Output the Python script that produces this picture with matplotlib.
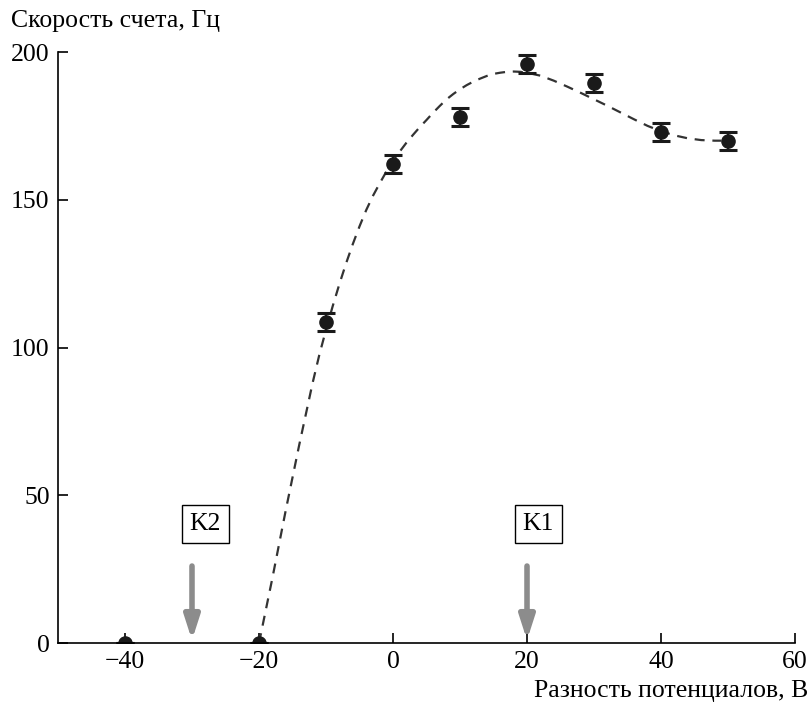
import matplotlib
matplotlib.use("Agg")
import matplotlib.pyplot as plt

plt.rcParams['font.family'] = ['Liberation Serif', 'DejaVu Serif']

# измеренные точки
x_pts = [-40, -20, -10, 0, 10, 20, 30, 40, 50]
y_pts = [0, 0, 108.6, 162, 178, 196, 189.5, 173, 170]
y_err = [0, 0, 3, 3, 3, 3, 3, 3, 3]

# аппроксимирующая кривая
x_fit = [-20, -19, -18, -17, -16, -15, -14, -13, -12, -11, -10, -9, -8, -7,
         -6, -5, -4, -3, -2, -1, 0, 1, 2, 3, 4, 5, 6, 7, 8, 9, 10, 11, 12,
         13, 14, 15, 16, 17, 18, 19, 20, 22, 24, 26, 28, 30, 32, 34, 36, 38,
         40, 42, 44, 46, 48, 49]
y_fit = [0, 11, 22, 33.5, 45, 56, 67, 77.5, 88, 97.5, 106, 114, 121.5, 128.5,
         135, 141, 146.5, 151.3, 155.5, 159.5, 163, 166.3, 169.3, 172, 174.6,
         177, 179.5, 181.8, 184, 185.8, 187.4, 188.8, 190, 191, 191.9, 192.6,
         193, 193.3, 193.4, 193.3, 193, 192, 190.3, 188.3, 186.2, 184, 181.8,
         179.5, 177.2, 175, 173.2, 171.8, 170.8, 170.2, 170, 170]

arrow_x = [-30, 20]
arrow_lbl = ['K2', 'K1']
box_x = [-28.0, 21.7]

fig = plt.figure(figsize=(8.11, 7.04), dpi=100)
ax = fig.add_axes([0.0715, 0.0866, 0.9088, 0.8395])

ax.plot(x_fit, y_fit, ls=(0, (4.5, 3.5)), color='#333333', lw=1.6)
ax.errorbar(x_pts, y_pts, yerr=y_err, fmt='o', color='#1a1a1a', ms=9.5,
            capsize=6.5, capthick=2.2, elinewidth=1.5, zorder=3)

for xa, lbl, xb in zip(arrow_x, arrow_lbl, box_x):
    ax.annotate('', xy=(xa, 0), xytext=(xa, 27),
                arrowprops=dict(arrowstyle='-|>,head_length=1.4,head_width=0.45',
                                color='#8c8c8c', lw=4))
    ax.text(xb, 40.3, lbl, ha='center', va='center', fontsize=18.5,
            bbox=dict(boxstyle='square,pad=0.3', fc='white', ec='black', lw=1))

ax.set_xlim(-50, 60)
ax.set_ylim(0, 200)
ax.set_xticks([-40, -20, 0, 20, 40, 60])
ax.set_xticklabels(['\u221240', '\u221220', '0', '20', '40', '60'])
ax.set_yticks([0, 50, 100, 150, 200])
ax.tick_params(direction='in', labelsize=18.5, length=7, width=1.2, pad=6)
ax.spines['top'].set_visible(False)
ax.spines['right'].set_visible(False)
ax.spines['left'].set_linewidth(1.2)
ax.spines['bottom'].set_linewidth(1.2)
ax.spines['bottom'].set_zorder(5)

fig.text(0.014, 1 - 27 / 704, 'Скорость счета, Гц', fontsize=18.5,
         ha='left', va='baseline')
fig.text(0.996, 1 - 697 / 704, 'Разность потенциалов, В', fontsize=18.5,
         ha='right', va='baseline')

fig.savefig('out.png', dpi=100)
